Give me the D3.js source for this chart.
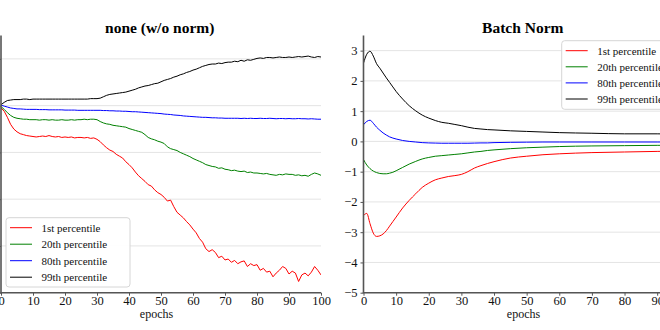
<!DOCTYPE html>
<html><head><meta charset="utf-8">
<script src="https://cdn.jsdelivr.net/npm/d3@7"></script>
<style>
html,body{margin:0;padding:0;background:#fff;}
svg{display:block;font-family:"Liberation Serif","Times New Roman",serif;}
</style>
</head><body>
<svg id="c" width="660" height="330"></svg>
<script>
// ---------- data ----------
const seriesNames = ["1st percentile", "20th percentile", "80th percentile", "99th percentile"];
const seriesColors = ["#ff0000", "#008000", "#0000ff", "#000000"];
const xTicks = [0, 10, 20, 30, 40, 50, 60, 70, 80, 90, 100];
const yTicksLeft = [-4, -3, -2, -1, 0, 1];
const yTicksRight = [-5, -4, -3, -2, -1, 0, 1, 2, 3];
const titleLeft = "none (w/o norm)";
const titleRight = "Batch Norm";
const xLabel = "epochs";

// left panel: one value per epoch 0..100
const epochsLeft = d3.range(0, 101);
const redLeft = [-0.05,-0.12,-0.25,-0.40,-0.50,-0.56,-0.60,-0.62,-0.64,-0.65,
-0.66,-0.67,-0.66,-0.65,-0.66,-0.64,-0.66,-0.67,-0.66,-0.68,
-0.67,-0.68,-0.67,-0.69,-0.68,-0.68,-0.69,-0.68,-0.70,-0.69,
-0.72,-0.77,-0.84,-0.90,-0.95,-0.98,-1.04,-1.08,-1.12,-1.20,
-1.26,-1.33,-1.42,-1.50,-1.56,-1.62,-1.69,-1.72,-1.80,-1.86,
-1.90,-1.96,-2.04,-2.02,-2.16,-2.28,-2.34,-2.40,-2.48,-2.55,
-2.64,-2.72,-2.84,-2.92,-3.06,-3.12,-3.08,-3.14,-3.25,-3.22,
-3.30,-3.28,-3.35,-3.31,-3.38,-3.34,-3.32,-3.44,-3.38,-3.42,
-3.40,-3.52,-3.48,-3.56,-3.54,-3.66,-3.58,-3.52,-3.44,-3.48,
-3.60,-3.54,-3.58,-3.76,-3.62,-3.58,-3.64,-3.56,-3.44,-3.52,
-3.62];
const greenLeft = [-0.02,-0.08,-0.15,-0.21,-0.25,-0.27,-0.28,-0.29,-0.29,-0.30,
-0.30,-0.30,-0.31,-0.30,-0.30,-0.31,-0.30,-0.31,-0.31,-0.30,
-0.31,-0.31,-0.30,-0.31,-0.30,-0.30,-0.29,-0.30,-0.29,-0.29,
-0.30,-0.34,-0.37,-0.39,-0.40,-0.42,-0.43,-0.44,-0.45,-0.46,
-0.49,-0.51,-0.53,-0.55,-0.57,-0.62,-0.68,-0.71,-0.73,-0.76,
-0.78,-0.81,-0.88,-0.92,-0.94,-0.96,-1.00,-1.03,-1.06,-1.09,
-1.13,-1.16,-1.19,-1.22,-1.26,-1.28,-1.30,-1.31,-1.34,-1.33,
-1.36,-1.37,-1.39,-1.38,-1.40,-1.41,-1.40,-1.43,-1.42,-1.44,
-1.44,-1.45,-1.46,-1.45,-1.47,-1.48,-1.49,-1.47,-1.48,-1.46,
-1.47,-1.47,-1.49,-1.48,-1.50,-1.49,-1.51,-1.47,-1.44,-1.46,
-1.49];
const blueLeft = [0.01,-0.01,-0.03,-0.05,-0.06,-0.07,-0.07,-0.075,-0.08,-0.08,
-0.08,-0.08,-0.085,-0.085,-0.085,-0.09,-0.09,-0.09,-0.09,-0.09,
-0.095,-0.095,-0.095,-0.095,-0.10,-0.10,-0.10,-0.10,-0.10,-0.10,
-0.10,-0.10,-0.105,-0.105,-0.11,-0.11,-0.115,-0.115,-0.12,-0.12,
-0.125,-0.13,-0.13,-0.135,-0.14,-0.145,-0.15,-0.155,-0.16,-0.165,
-0.17,-0.18,-0.185,-0.19,-0.20,-0.205,-0.21,-0.22,-0.225,-0.23,
-0.235,-0.24,-0.245,-0.25,-0.25,-0.255,-0.26,-0.26,-0.265,-0.265,
-0.27,-0.27,-0.27,-0.27,-0.27,-0.275,-0.27,-0.275,-0.27,-0.275,
-0.275,-0.27,-0.275,-0.275,-0.27,-0.275,-0.28,-0.275,-0.275,-0.28,
-0.275,-0.28,-0.28,-0.275,-0.28,-0.28,-0.285,-0.28,-0.285,-0.29,
-0.29];
const blackLeft = [0.02,0.07,0.11,0.12,0.13,0.13,0.13,0.14,0.14,0.13,
0.14,0.14,0.14,0.14,0.14,0.14,0.14,0.14,0.14,0.14,
0.14,0.14,0.14,0.14,0.14,0.14,0.14,0.14,0.15,0.15,
0.15,0.16,0.19,0.22,0.24,0.25,0.26,0.27,0.28,0.29,
0.31,0.33,0.35,0.38,0.40,0.42,0.43,0.45,0.47,0.48,
0.51,0.54,0.56,0.58,0.61,0.63,0.66,0.68,0.71,0.73,
0.76,0.78,0.81,0.84,0.86,0.88,0.89,0.89,0.91,0.90,
0.92,0.93,0.93,0.95,0.94,0.97,0.95,0.98,0.97,0.99,
1.01,1.02,1.01,1.03,1.03,1.02,1.03,1.04,1.03,1.03,
1.04,1.03,1.04,1.05,1.04,1.05,1.06,1.04,1.03,1.05,
1.04];

// right panel (smooth curves)
const epochsRight = [0,1,2,3,4,5,6,7,8,9,10,12,14,16,18,20,22,24,26,28,30,32,34,36,38,40,45,50,55,60,70,80,90,100];
const redRight = [-2.45,-2.38,-2.72,-3.03,-3.14,-3.12,-3.06,-2.95,-2.80,-2.65,-2.50,-2.20,-1.95,-1.73,-1.52,-1.38,-1.27,-1.21,-1.16,-1.13,-1.09,-1.00,-0.88,-0.80,-0.73,-0.67,-0.55,-0.49,-0.44,-0.41,-0.37,-0.35,-0.33,-0.32];
const greenRight = [-0.60,-0.78,-0.90,-0.98,-1.03,-1.06,-1.07,-1.07,-1.05,-1.02,-0.97,-0.86,-0.75,-0.66,-0.58,-0.53,-0.49,-0.47,-0.45,-0.43,-0.41,-0.38,-0.35,-0.33,-0.30,-0.28,-0.24,-0.21,-0.19,-0.17,-0.15,-0.14,-0.13,-0.13];
const blueRight = [0.55,0.66,0.70,0.60,0.47,0.37,0.28,0.21,0.15,0.11,0.08,0.03,0.0,-0.02,-0.04,-0.05,-0.055,-0.06,-0.06,-0.06,-0.06,-0.06,-0.055,-0.05,-0.05,-0.04,-0.03,-0.025,-0.02,-0.02,-0.02,-0.02,-0.02,-0.02];
const blackRight = [2.59,2.88,2.98,2.82,2.57,2.42,2.26,2.10,1.95,1.80,1.65,1.40,1.18,1.01,0.87,0.77,0.69,0.63,0.60,0.56,0.52,0.47,0.43,0.41,0.39,0.38,0.35,0.33,0.31,0.29,0.27,0.25,0.25,0.24];

// ---------- drawing ----------
const svg = d3.select("#c");
const TOP = 35.5, BOTTOM = 292.7;
const fmt = d => d < 0 ? "\u2212" + Math.abs(d) : String(d);

function drawPanel(cfg) {
  const x = d3.scaleLinear().domain([0, 100]).range([cfg.x0, cfg.x1]);
  const y = d3.scaleLinear().domain(cfg.yDomain).range([BOTTOM, TOP]);
  const g = svg.append("g");
  const clipId = "clip" + cfg.id;
  svg.append("clipPath").attr("id", clipId).append("rect")
    .attr("x", cfg.x0).attr("y", TOP).attr("width", cfg.x1 - cfg.x0).attr("height", BOTTOM - TOP);

  // horizontal grid
  g.append("g").selectAll("line").data(cfg.yTicks).join("line")
    .attr("x1", cfg.x0).attr("x2", cfg.x1)
    .attr("y1", d => y(d)).attr("y2", d => y(d))
    .attr("stroke", "#e4e4e4").attr("stroke-width", 1);

  // lines
  const line = d3.line().x(d => x(d[0])).y(d => y(d[1])).curve(cfg.curve);
  const lg = g.append("g").attr("clip-path", `url(#${clipId})`);
  cfg.series.forEach((vals, i) => {
    const pts = cfg.epochs.map((e, k) => [e, vals[k]]);
    lg.append("path").attr("d", line(pts)).attr("fill", "none")
      .attr("stroke", seriesColors[i]).attr("stroke-width", 1)
      .attr("stroke-linejoin", "round");
  });

  // axes
  const xa = g.append("g").attr("transform", `translate(0,${BOTTOM})`)
    .call(d3.axisBottom(x).tickValues(xTicks).tickSize(3).tickPadding(0).tickFormat(fmt));
  const ya = g.append("g").attr("transform", `translate(${cfg.x0},0)`)
    .call(d3.axisLeft(y).tickValues(cfg.yTicks).tickSize(3).tickPadding(3)
      .tickFormat(cfg.showYLabels ? fmt : () => ""));
  [xa, ya].forEach(a => {
    a.select(".domain").remove();
    a.selectAll(".tick line").attr("stroke", "#555");
    a.selectAll(".tick text").attr("fill", "#111").style("font-size", "12.5px")
      .style("font-family", '"Liberation Serif","Times New Roman",serif');
  });
  if (!cfg.showYLabels) ya.selectAll(".tick text").remove();
  // spines
  g.append("line").attr("x1", cfg.x0).attr("x2", cfg.x0).attr("y1", TOP).attr("y2", BOTTOM)
    .attr("stroke", "#555").attr("stroke-width", 1.6);
  g.append("line").attr("x1", cfg.x0 - 0.8).attr("x2", cfg.x1).attr("y1", BOTTOM).attr("y2", BOTTOM)
    .attr("stroke", "#555").attr("stroke-width", 1.6);

  // title and x label
  g.append("text").attr("x", cfg.titleX).attr("y", 33).attr("text-anchor", "middle")
    .style("font-size", "15.5px").style("font-weight", "bold").attr("fill", "#000").text(cfg.title);
  g.append("text").attr("x", cfg.labelX).attr("y", 318).attr("text-anchor", "middle")
    .style("font-size", "12px").attr("fill", "#111").text(xLabel);

  // legend
  const L = cfg.legend;
  const leg = g.append("g");
  leg.append("rect").attr("x", L.x).attr("y", L.y).attr("width", 124).attr("height", L.h)
    .attr("rx", 3).attr("fill", "#fff").attr("fill-opacity", 0.92)
    .attr("stroke", "#d6d6d6").attr("stroke-width", 1);
  seriesNames.forEach((name, i) => {
    const cy = L.y + L.first + i * L.step;
    leg.append("line").attr("x1", L.x + 4).attr("x2", L.x + 26).attr("y1", cy).attr("y2", cy)
      .attr("stroke", seriesColors[i]).attr("stroke-width", 1);
    leg.append("text").attr("x", L.x + 35.5).attr("y", cy + 3.8)
      .style("font-size", "11px").attr("fill", "#111").text(name);
  });
}

drawPanel({
  id: "L", x0: 1, x1: 321, yDomain: [-4, 1.5], yTicks: yTicksLeft, showYLabels: false,
  epochs: epochsLeft, series: [redLeft, greenLeft, blueLeft, blackLeft],
  curve: d3.curveLinear, title: titleLeft, titleX: 159.7, labelX: 156.5,
  legend: { x: 6, y: 217.7, h: 69.3, first: 10, step: 16.5 }
});
drawPanel({
  id: "R", x0: 363.5, x1: 689.8, yDomain: [-5, 3.5], yTicks: yTicksRight, showYLabels: true,
  epochs: epochsRight, series: [redRight, greenRight, blueRight, blackRight],
  curve: d3.curveMonotoneX, title: titleRight, titleX: 522.8, labelX: 523.5,
  legend: { x: 561.7, y: 40.7, h: 68.6, first: 10, step: 16.1 }
});
</script>
</body></html>
